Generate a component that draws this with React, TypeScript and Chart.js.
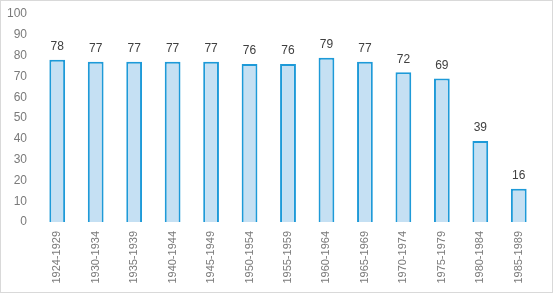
import React, { useEffect, useRef } from "react";
import { Chart, registerables } from "chart.js";

Chart.register(...registerables);

const categories = [
  "1924-1929", "1930-1934", "1935-1939", "1940-1944", "1945-1949", "1950-1954",
  "1955-1959", "1960-1964", "1965-1969", "1970-1974", "1975-1979", "1980-1984", "1985-1989",
];
const values = [78, 77, 77, 77, 77, 76, 76, 79, 77, 72, 69, 39, 16];
const yTicks = [0, 10, 20, 30, 40, 50, 60, 70, 80, 90, 100];

const FONT = "'Liberation Sans', Arial, sans-serif";

const framePlugin = {
  id: "frame",
  beforeDraw(chart: any) {
    const { ctx, width, height } = chart;
    ctx.save();
    ctx.fillStyle = "#ffffff";
    ctx.fillRect(0, 0, width, height);
    ctx.strokeStyle = "#d9d9d9";
    ctx.lineWidth = 1;
    ctx.strokeRect(0.5, 0.5, width - 1, height - 1);
    ctx.restore();
  },
};

const labelPlugin = {
  id: "valueLabels",
  afterDatasetsDraw(chart: any) {
    const { ctx } = chart;
    const meta = chart.getDatasetMeta(0);
    ctx.save();
    ctx.fillStyle = "#404040";
    ctx.font = `12px ${FONT}`;
    ctx.textAlign = "center";
    ctx.textBaseline = "bottom";
    meta.data.forEach((bar: any, i: number) => {
      ctx.fillText(String(chart.data.datasets[0].data[i]), bar.x, bar.y - 7);
    });
    ctx.restore();
  },
};

export default function App() {
  const ref = useRef<HTMLCanvasElement>(null);
  useEffect(() => {
    document.body.style.margin = "0";
    const chart = new Chart(ref.current!, {
      type: "bar",
      data: {
        labels: categories,
        datasets: [
          {
            data: values,
            backgroundColor: "#c5e0f3",
            borderColor: "#1e9ad8",
            borderWidth: 2,
            categoryPercentage: 1,
            barPercentage: 0.41,
          },
        ],
      },
      options: {
        responsive: false,
        animation: false,
        layout: { padding: { top: 14, right: 15, left: 0, bottom: 0 } },
        plugins: { legend: { display: false }, tooltip: { enabled: false } },
        scales: {
          x: {
            grid: { display: false, drawTicks: false },
            border: { display: false },
            ticks: {
              minRotation: 90,
              maxRotation: 90,
              autoSkip: false,
              padding: 9,
              color: "#7a7a7a",
              font: { family: FONT, size: 11 },
            },
            afterFit(scale: any) {
              scale.height = 71;
              scale.paddingLeft = 0;
              scale.paddingRight = 0;
            },
          },
          y: {
            min: 0,
            max: 100,
            afterBuildTicks(scale: any) {
              scale.ticks = yTicks.map((v) => ({ value: v }));
            },
            grid: { display: false, drawTicks: false },
            border: { display: false },
            ticks: {
              padding: 11,
              color: "#7a7a7a",
              font: { family: FONT, size: 12 },
            },
            afterFit(scale: any) {
              scale.width = 38;
              scale.paddingTop = 0;
              scale.paddingBottom = 0;
            },
          },
        },
      },
      plugins: [framePlugin, labelPlugin],
    });
    return () => chart.destroy();
  }, []);
  return <canvas ref={ref} width={553} height={293} style={{ display: "block" }} />;
}
